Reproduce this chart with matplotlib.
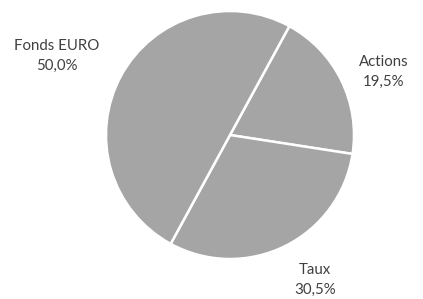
import matplotlib
matplotlib.use("Agg")
import matplotlib.pyplot as plt

categories = ["Actions", "Taux", "Fonds EURO"]
values = [19.5, 30.5, 50.0]
pct_labels = ["19,5%", "30,5%", "50,0%"]

plt.rcParams['font.family'] = ['Lato', 'DejaVu Sans']

fig = plt.figure(figsize=(4.23, 2.99), dpi=100)
cx, cy, r = 230, 135, 124
W, H = 423, 299
ax = fig.add_axes([(cx - r) / W, (H - cy - r) / H, 2 * r / W, 2 * r / H])
wedges, _ = ax.pie(values, startangle=61.4, counterclock=False,
                   colors=["#A5A5A5"] * 3,
                   wedgeprops=dict(edgecolor="white", linewidth=1.8),
                   radius=1.0)
ax.set_xlim(-1, 1)
ax.set_ylim(-1, 1)
ax.set_aspect('equal')
ax.axis('off')

label_pos = {"Actions": (384, 72), "Taux": (315, 280), "Fonds EURO": (57, 56)}
for cat, pl in zip(categories, pct_labels):
    px, py = label_pos[cat]
    x = (px - cx) / r
    y = (cy - py) / r
    ax.text(x, y, f"{cat}\n{pl}", ha='center', va='center', fontsize=10.8,
            color="#404040", linespacing=1.55, clip_on=False)

fig.savefig("out.png", dpi=100)
